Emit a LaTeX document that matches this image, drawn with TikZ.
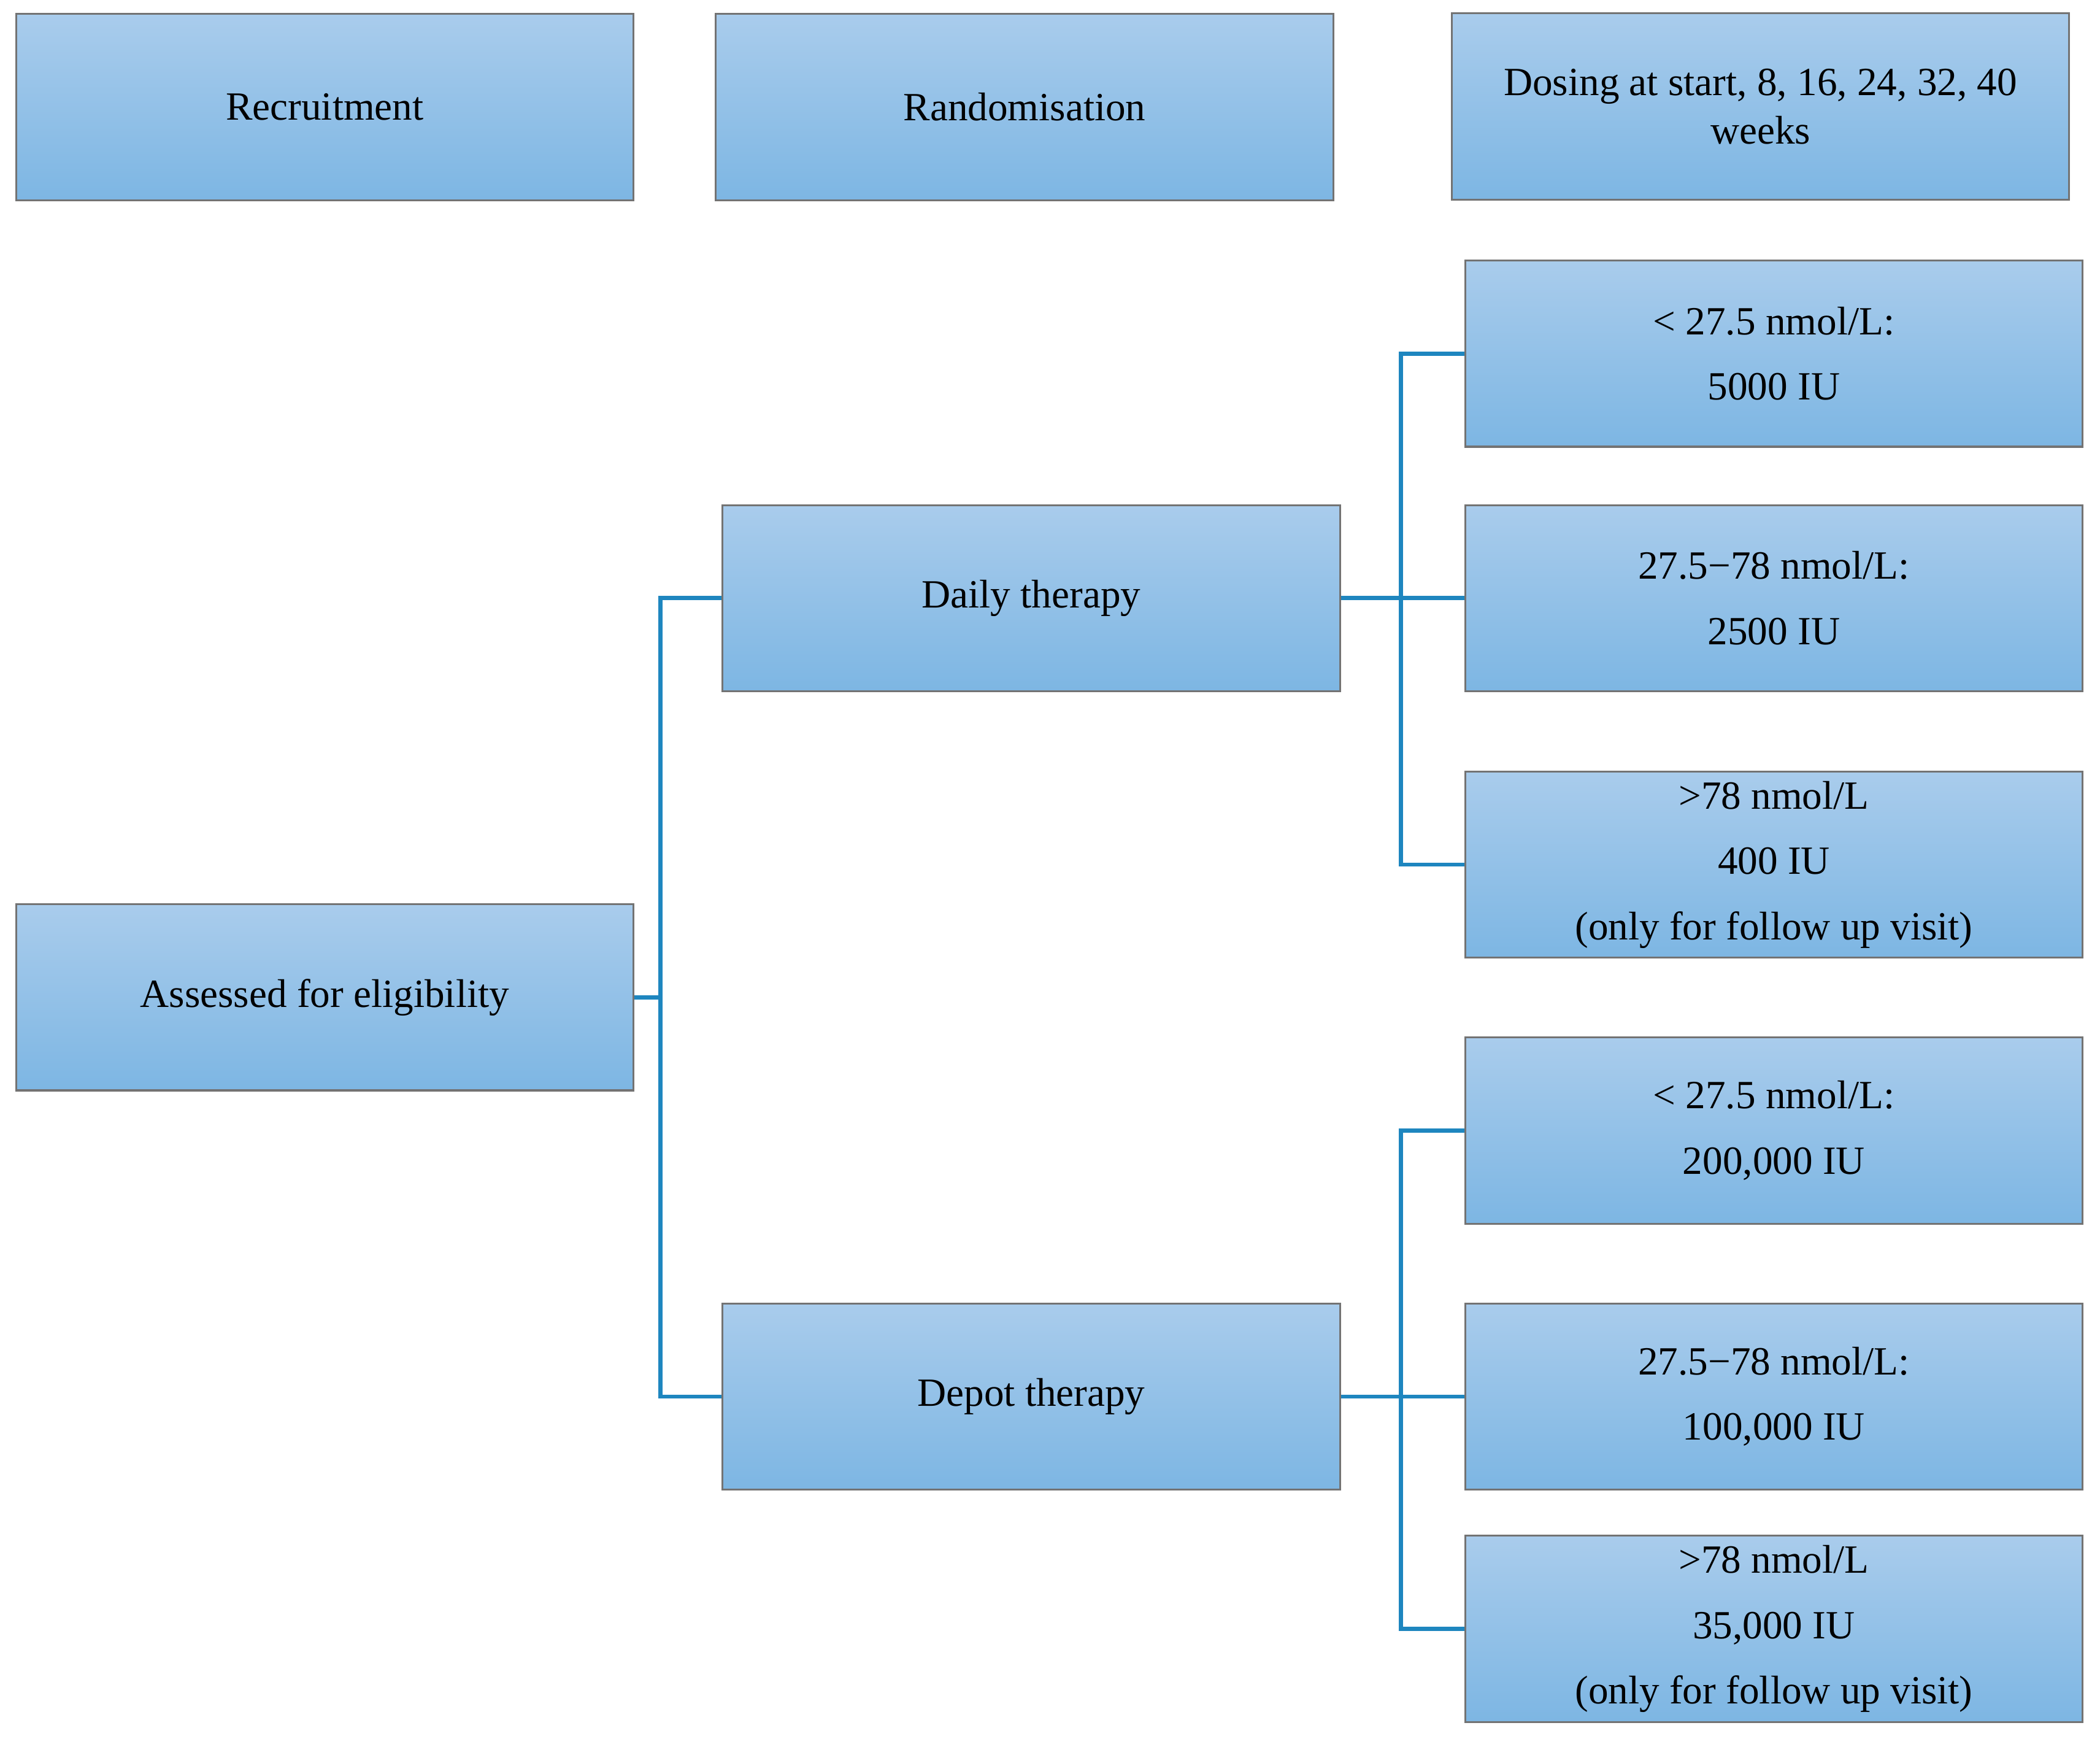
\documentclass[tikz,border=0pt]{standalone}
\usepackage{fontspec}
\setmainfont{Liberation Serif}
\begin{document}
\begin{tikzpicture}[x=0.02cm,y=-0.02cm,
  box/.style={draw=black!55,line width=0.8pt,top color=boxtop,bottom color=boxbot,
    minimum width=9.22cm,minimum height=2.78cm,inner sep=0pt,align=center,
    font=\fontsize{17}{27.8}\selectfont},
  conn/.style={draw=linec,line width=1.7pt}]
\definecolor{boxtop}{HTML}{A9CCEC}
\definecolor{boxbot}{HTML}{7DB6E3}
\definecolor{linec}{HTML}{1E86BF}
\useasboundingbox (0,0) rectangle (1568,1298);
\node[box] (rec) at (242.5,80) {Recruitment};
\node[box] (ran) at (765,80) {Randomisation};
\node[box,font=\fontsize{17}{20.5}\selectfont] (dos) at (1314.5,79.5) {Dosing at start, 8, 16, 24, 32, 40\\weeks};
\node[box] (as) at (242.5,744.5) {Assessed for eligibility};
\node[box] (daily) at (770,446.5) {Daily therapy};
\node[box] (depot) at (770,1042.5) {Depot therapy};
\node[box] (b1) at (1324.5,264) {< 27.5 nmol/L:\\5000 IU};
\node[box] (b2) at (1324.5,446.5) {27.5\textminus78 nmol/L:\\2500 IU};
\node[box] (b3) at (1324.5,645.5) {>78 nmol/L\\400 IU\\(only for follow up visit)};
\node[box] (b4) at (1324.5,844) {< 27.5 nmol/L:\\200,000 IU};
\node[box] (b5) at (1324.5,1042.5) {27.5\textminus78 nmol/L:\\100,000 IU};
\node[box] (b6) at (1324.5,1216) {>78 nmol/L\\35,000 IU\\(only for follow up visit)};
\coordinate (j1) at (493,744.5);
\coordinate (j2) at (1046,446.5);
\coordinate (j3) at (1046,1042.5);
\draw[conn] (as.east) -- (j1);
\draw[conn] (daily.west) -| (j1);
\draw[conn] (depot.west) -| (j1);
\draw[conn] (daily.east) -- (b2.west);
\draw[conn] (b1.west) -| (j2);
\draw[conn] (b3.west) -| (j2);
\draw[conn] (depot.east) -- (b5.west);
\draw[conn] (b4.west) -| (j3);
\draw[conn] (b6.west) -| (j3);
\end{tikzpicture}
\end{document}
